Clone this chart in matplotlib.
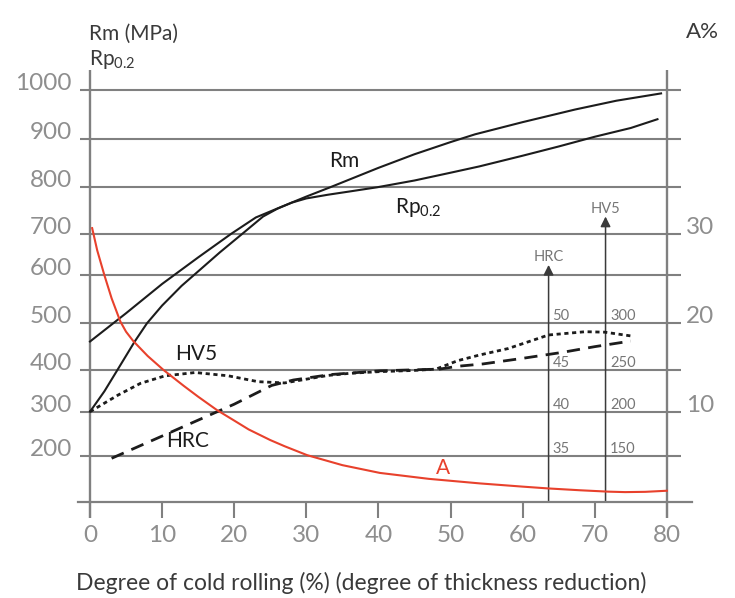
import matplotlib
matplotlib.use("Agg")
import matplotlib.pyplot as plt
import numpy as np

# ---- data ----
# Rm (MPa)
rm_x = [0, 5, 10, 15, 19.6, 23, 26.4, 30, 33.3, 40, 45, 50, 53.4, 60, 67.3, 73, 79.2]
rm_y = [461, 521, 582, 643, 700, 735, 757, 780, 800, 840, 868, 893, 909, 934, 960, 978, 993]

# Rp0.2 (MPa)
rp_x = [0, 2, 3.8, 6.2, 7.9, 10, 12.7, 15.3, 18, 21, 24, 26, 28, 30, 33, 36, 39.8, 45, 50, 54, 60, 65, 70, 75, 78.7]
rp_y = [300, 349, 400, 461, 500, 537, 578, 614, 655, 698, 737, 754, 767, 776, 784, 791, 800, 814, 830, 843, 865, 884, 904, 922, 940]

# HV5 hardness
hv_x = [0, 3.9, 7, 10.4, 14.6, 19.2, 23.3, 27, 30, 33, 36, 40, 45, 48, 51, 54, 58, 63.6, 68.7, 71.4, 75]
hv = [200, 220, 234, 243, 247, 243, 236, 234.5, 239, 243.5, 246, 248, 249.5, 251, 260, 266, 273, 287.5, 291, 290.5, 286.5]

# HRC hardness
hrc_x = [3, 10, 15, 20, 25.2, 28.2, 33.3, 40.2, 48.5, 51, 54.5, 60, 65.6, 70, 75]
hrc = [34.75, 37.25, 39.05, 40.9, 43.15, 43.8, 44.45, 44.9, 45.1, 45.4, 45.65, 46.25, 46.9, 47.5, 48.1]

# elongation A (%)
a_x = [0.3, 1, 2, 3, 4.2, 5, 6, 8, 10.2, 13, 15, 17.6, 20, 22, 25, 27, 30.1, 35, 40.2, 47, 54.1,
       60, 63.6, 68, 71.9, 74.2, 77, 80]
a_pct = [30.6, 28.0, 25.0, 22.6, 20.2, 19.1, 18.1, 16.5, 15.0, 13.1, 11.8, 10.2, 9.0, 8.0, 6.8, 6.1, 5.1,
         4.0, 3.15, 2.5, 2.0, 1.65, 1.45, 1.25, 1.1, 1.05, 1.08, 1.2]

mpa_ticks = [200, 300, 400, 500, 600, 700, 800, 900, 1000]
a_ticks = [10, 20, 30]
hrc_ticks = [35, 40, 45, 50]
hv_ticks = [150, 200, 250, 300]
x_ticks = [0, 10, 20, 30, 40, 50, 60, 70, 80]


# the secondary scales share the MPa axis
def a_to_mpa(v):
    return 100 + 20 * np.asarray(v)


def hrc_to_mpa(v):
    return 200 + (np.asarray(v) - 35) * 20


def hv_to_mpa(v):
    return 2 * np.asarray(v) - 100


# gridlines in the original drawing are not evenly spaced
scale_mpa = [-200, 100, 200, 300, 400, 500, 600, 700, 800, 900, 1000, 1200]
scale_px = [638.8, 501.7, 456, 411.7, 370, 323.3, 275.3, 233.7, 187.3, 138.7, 90, -7.4]


def fwd(v):
    return -np.interp(v, scale_mpa, scale_px)


def inv(v):
    return np.interp(-np.asarray(v), [-p for p in scale_px], scale_mpa)


GRID = "#808080"
TICK = "#8e8e8e"
DARK = "#1c1c1c"
TITLE = "#3a3a3a"
RED = "#e8412c"
SMALL = "#767676"

plt.rcParams["font.family"] = ["Lato", "DejaVu Sans"]
plt.rcParams["lines.scale_dashes"] = False

fig = plt.figure(figsize=(7.35, 5.98), dpi=100)
W, H = 735, 598
ax = fig.add_axes([78 / W, 1 - 522 / H, (692 - 78) / W, (522 - 60) / H])
ax.set_yscale("function", functions=(fwd, inv))
ax.set_xlim(-1.664, 83.49)
ax.set_ylim(55.6, 1061.6)
ax.patch.set_visible(False)

for s in ["left", "right", "top"]:
    ax.spines[s].set_visible(False)
ax.spines["bottom"].set_position(("data", 100))
ax.spines["bottom"].set_color(GRID)
ax.spines["bottom"].set_linewidth(1.6)
ax.set_yticks([])
ax.set_xticks(x_ticks)
ax.tick_params(axis="x", direction="out", length=11.5, width=1.5, color=GRID,
               labelsize=17.5, labelcolor=TICK, pad=5)

# grid and axis lines
ax.hlines(mpa_ticks, -1.39, 81.97, color=GRID, lw=1.5, zorder=1)
ax.vlines([0, 80], 64, 1041, color=GRID, lw=1.7, zorder=1)

for v in mpa_ticks:
    ax.text(-2.5, v, str(v), ha="right", va="baseline", fontsize=17.5, color=TICK)
for v in a_ticks:
    ax.text(82.6, a_to_mpa(v), str(v), ha="left", va="baseline", fontsize=17.5, color=TICK)

# hardness scale arrows
hrc_pos, hv_pos = 63.6, 71.5
arrow = dict(arrowstyle="-|>,head_length=0.6,head_width=0.3", color="#3a3a3a",
             lw=1.1, shrinkA=0, shrinkB=0, mutation_scale=10)
ax.annotate("", xy=(hrc_pos, 625), xytext=(hrc_pos, 100), arrowprops=arrow, zorder=2)
ax.annotate("", xy=(hv_pos, 737), xytext=(hv_pos, 100), arrowprops=arrow, zorder=2)
ax.text(hrc_pos, 635, "HRC", ha="center", va="baseline", fontsize=10.5, color=SMALL)
ax.text(hv_pos, 744, "HV5", ha="center", va="baseline", fontsize=10.5, color=SMALL)
for v in hrc_ticks:
    ax.text(hrc_pos + 0.55, hrc_to_mpa(v) + 6, str(v), ha="left", va="baseline",
            fontsize=10.5, color=SMALL)
for v in hv_ticks:
    ax.text(hv_pos + 0.65, hv_to_mpa(v) + 6, str(v), ha="left", va="baseline",
            fontsize=10.5, color=SMALL)

# curves
ax.plot(rm_x, rm_y, color=DARK, lw=1.5, zorder=3)
ax.plot(rp_x, rp_y, color=DARK, lw=1.5, zorder=3)
ax.plot(hv_x, hv_to_mpa(hv), color=DARK, lw=2, linestyle=(0, (3, 2.6)), zorder=3)
ax.plot(hrc_x, hrc_to_mpa(hrc), color=DARK, lw=2, linestyle=(0, (9.5, 6)), zorder=3)
ax.plot(a_x, a_to_mpa(a_pct), color=RED, lw=1.5, zorder=3)

# curve labels
ax.text(35.2, 854, "Rm", ha="center", va="center", fontsize=15, color=DARK)
ax.text(42.3, 745, r"Rp$_{\mathregular{0.2}}$", ha="left", va="baseline", fontsize=15, color=DARK)
ax.text(14.7, 434, "HV5", ha="center", va="center", fontsize=15, color=DARK)
ax.text(13.6, 233, "HRC", ha="center", va="center", fontsize=15, color=DARK)
ax.text(48.9, 174, "A", ha="center", va="center", fontsize=15, color=RED)

# axis titles
fig.text(89 / W, 1 - 39.5 / H, "Rm (MPa)", ha="left", va="baseline", fontsize=15, color=TITLE)
fig.text(89 / W, 1 - 65 / H, r"Rp$_{\mathregular{0.2}}$", ha="left", va="baseline",
         fontsize=15, color=TITLE)
fig.text(686 / W, 1 - 37.5 / H, "A%", ha="left", va="baseline", fontsize=16, color=TITLE)
fig.text(76 / W, 1 - 590 / H, "Degree of cold rolling (%) (degree of thickness reduction)",
         ha="left", va="baseline", fontsize=16.5, color=TITLE)

fig.savefig("out.png", dpi=100)
